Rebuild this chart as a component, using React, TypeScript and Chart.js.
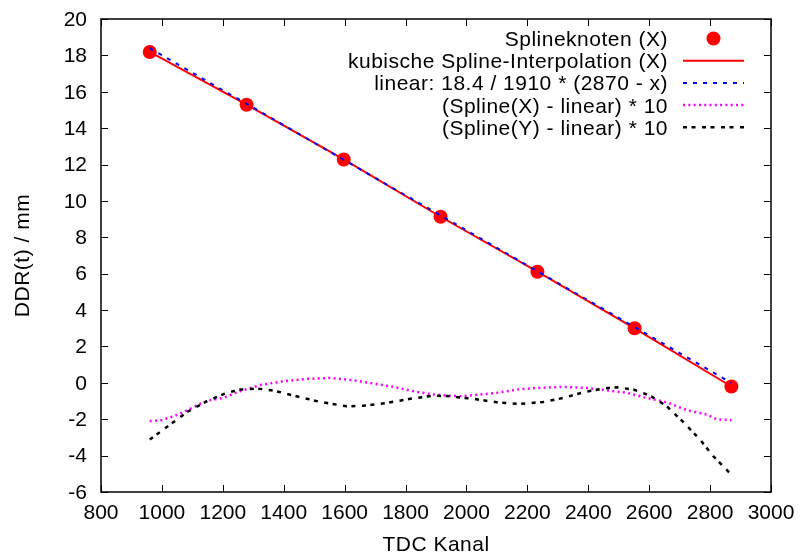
import { useEffect, useRef } from "react";
import { Chart, registerables } from "chart.js";

Chart.register(...registerables);

// Spline knots (X)
const knotX = [960, 1278, 1597, 1915, 2233, 2552, 2870];
const knotY = [18.19, 15.29, 12.28, 9.13, 6.11, 3.0, -0.2];

// Linear reference line: 18.4 / 1910 * (2870 - x), drawn between its end points
const linX = [960, 2870];
const linY = [18.4, 0];

// (Spline(X) - linear) * 10
const devXx = [960, 1000, 1054, 1093, 1126, 1160, 1202, 1257, 1323, 1399, 1476, 1552, 1629, 1695, 1760, 1837, 1892, 1935, 1979, 2045, 2100, 2165, 2231, 2318, 2395, 2461, 2527, 2592, 2658, 2724, 2789, 2822, 2870];
const devXy = [-2.1, -2.05, -1.74, -1.43, -1.15, -0.95, -0.83, -0.46, -0.12, 0.09, 0.22, 0.27, 0.14, -0.04, -0.22, -0.5, -0.64, -0.7, -0.74, -0.64, -0.55, -0.37, -0.28, -0.22, -0.28, -0.41, -0.55, -0.83, -1.07, -1.5, -1.74, -2.0, -2.05];

// (Spline(Y) - linear) * 10
const devYx = [960, 1027, 1087, 1148, 1213, 1257, 1312, 1366, 1432, 1520, 1607, 1673, 1739, 1815, 1892, 1946, 2023, 2100, 2176, 2253, 2318, 2384, 2450, 2494, 2548, 2603, 2658, 2713, 2767, 2811, 2870];
const devYy = [-3.12, -2.29, -1.56, -1.01, -0.55, -0.37, -0.31, -0.42, -0.7, -1.05, -1.29, -1.25, -1.1, -0.88, -0.7, -0.74, -0.88, -1.07, -1.16, -1.05, -0.83, -0.52, -0.31, -0.24, -0.37, -0.7, -1.29, -2.17, -3.12, -4.04, -5.05];

const xTitle = "TDC Kanal";
const yTitle = "DDR(t) / mm";

const FONT_FAMILY = '"Liberation Sans", Arial, Helvetica, sans-serif';
const FONT_SIZE = 21;
const TICK_LEN = 7;

const pts = (xs: number[], ys: number[]) => xs.map((x, i) => ({ x, y: ys[i] }));

// Plot frame with inward ticks on all four sides, key and axis titles
const framePlugin = {
  id: "frame",
  beforeDatasetsDraw(chart: any) {
    const { ctx, chartArea: a, scales } = chart;
    ctx.save();
    ctx.strokeStyle = "#000";
    ctx.lineWidth = 1;
    ctx.beginPath();
    for (const t of scales.x.ticks) {
      const px = Math.round(scales.x.getPixelForValue(t.value)) + 0.5;
      ctx.moveTo(px, a.bottom);
      ctx.lineTo(px, a.bottom - TICK_LEN);
      ctx.moveTo(px, a.top);
      ctx.lineTo(px, a.top + TICK_LEN);
    }
    for (const t of scales.y.ticks) {
      const py = Math.round(scales.y.getPixelForValue(t.value)) + 0.5;
      ctx.moveTo(a.left, py);
      ctx.lineTo(a.left + TICK_LEN, py);
      ctx.moveTo(a.right, py);
      ctx.lineTo(a.right - TICK_LEN, py);
    }
    ctx.stroke();
    ctx.lineWidth = 1.5;
    ctx.strokeRect(a.left, a.top, a.right - a.left, a.bottom - a.top);
    ctx.restore();
  },
  afterDraw(chart: any) {
    const { ctx, chartArea: a } = chart;
    ctx.save();
    ctx.fillStyle = "#000";
    ctx.font = `${FONT_SIZE}px ${FONT_FAMILY}`;
    (ctx as any).letterSpacing = "0.5px";

    // key, top right inside the plot
    const textRight = a.right - 103;
    const sampleL = a.right - 88;
    const sampleR = a.right - 27;
    chart.data.datasets.forEach((ds: any, i: number) => {
      const y = a.top + 19.5 + i * 22.2;
      ctx.textAlign = "right";
      ctx.textBaseline = "alphabetic";
      ctx.fillText(ds.label, textRight, y + 7.5);
      if (ds.showLine === false) {
        ctx.beginPath();
        ctx.fillStyle = ds.pointBackgroundColor;
        ctx.arc((sampleL + sampleR) / 2, y, ds.pointRadius, 0, Math.PI * 2);
        ctx.fill();
        ctx.fillStyle = "#000";
      } else {
        ctx.save();
        ctx.strokeStyle = ds.borderColor;
        ctx.lineWidth = ds.borderWidth;
        ctx.setLineDash(ds.borderDash || []);
        ctx.beginPath();
        ctx.moveTo(sampleL, y);
        ctx.lineTo(sampleR, y);
        ctx.stroke();
        ctx.restore();
      }
    });

    // axis titles
    ctx.textAlign = "center";
    ctx.textBaseline = "alphabetic";
    ctx.fillText(xTitle, (a.left + a.right) / 2, 550.5);
    ctx.translate(29, (a.top + a.bottom) / 2);
    ctx.rotate(-Math.PI / 2);
    ctx.fillText(yTitle, 0, 0);
    ctx.restore();
  },
};

export default function App() {
  const ref = useRef<HTMLCanvasElement>(null);

  useEffect(() => {
    if (!ref.current) return;
    const tickFont = { family: FONT_FAMILY, size: FONT_SIZE };
    const chart = new Chart(ref.current, {
      type: "scatter",
      data: {
        datasets: [
          {
            label: "Splineknoten (X)",
            data: pts(knotX, knotY),
            showLine: false,
            pointRadius: 7,
            pointBackgroundColor: "#ff0000",
            pointBorderWidth: 0,
            order: 5,
          },
          {
            label: "kubische Spline-Interpolation (X)",
            data: pts(knotX, knotY),
            showLine: true,
            borderColor: "#ff0000",
            borderWidth: 2,
            pointRadius: 0,
            order: 4,
          },
          {
            label: "linear: 18.4 / 1910 * (2870 - x)",
            data: pts(linX, linY),
            showLine: true,
            borderColor: "#0000ff",
            borderWidth: 2,
            borderDash: [4, 6],
            pointRadius: 0,
            order: 3,
          },
          {
            label: "(Spline(X) - linear) * 10",
            data: pts(devXx, devXy),
            showLine: true,
            borderColor: "#ff00ff",
            borderWidth: 2.5,
            borderDash: [2, 3.3],
            pointRadius: 0,
            order: 2,
          },
          {
            label: "(Spline(Y) - linear) * 10",
            data: pts(devYx, devYy),
            showLine: true,
            borderColor: "#000000",
            borderWidth: 2.5,
            borderDash: [4, 4.5, 4, 6.5],
            pointRadius: 0,
            order: 1,
          },
        ] as any,
      },
      options: {
        animation: false,
        responsive: false,
        layout: { padding: { left: 0, top: 19, right: 29, bottom: 0 } },
        plugins: {
          legend: { display: false },
          tooltip: { enabled: false },
        },
        scales: {
          x: {
            type: "linear",
            min: 800,
            max: 3000,
            grid: { display: false, drawTicks: false },
            border: { display: false },
            ticks: {
              stepSize: 200,
              autoSkip: false,
              maxRotation: 0,
              padding: 9,
              color: "#000",
              font: tickFont,
              callback: (v: any) => String(v),
            },
            afterFit: (s: any) => {
              s.height = 66;
              s.paddingLeft = 0;
              s.paddingRight = 0;
            },
          },
          y: {
            type: "linear",
            min: -6,
            max: 20,
            grid: { display: false, drawTicks: false },
            border: { display: false },
            ticks: {
              stepSize: 2,
              autoSkip: false,
              padding: 14,
              labelOffset: 1,
              color: "#000",
              font: tickFont,
              callback: (v: any) => String(v),
            },
            afterFit: (s: any) => {
              s.width = 101;
              s.paddingTop = 0;
              s.paddingBottom = 0;
            },
          },
        },
      },
      plugins: [framePlugin],
    });
    return () => chart.destroy();
  }, []);

  return (
    <canvas
      ref={ref}
      width={800}
      height={558}
      style={{ position: "fixed", left: 0, top: 0, width: 800, height: 558, display: "block" }}
    />
  );
}
